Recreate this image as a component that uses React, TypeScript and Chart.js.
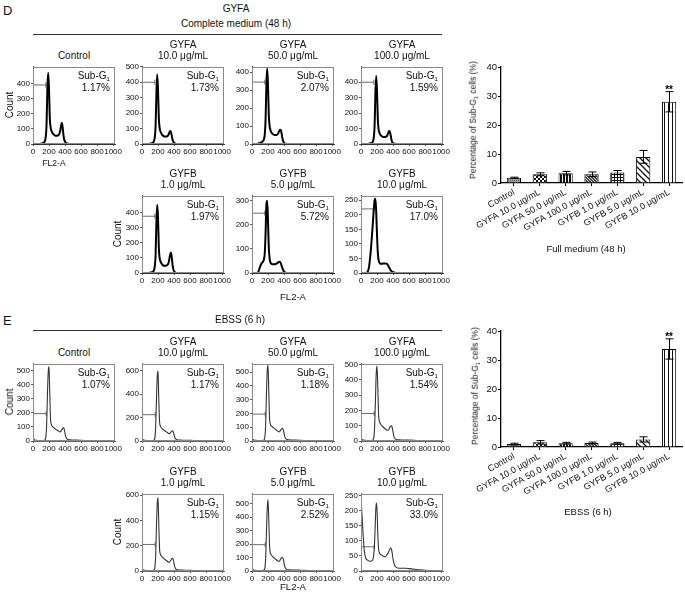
import React, { useEffect, useRef } from "react";
import { Chart, registerables } from "chart.js";
Chart.register(...registerables);

const FONT = '"Liberation Sans", Arial, Helvetica, sans-serif';

// ---------- histogram data (FL2-A channel vs count) ----------
const histX = [0, 20, 40, 60, 80, 100, 120, 140, 150, 160, 170, 180, 190, 200, 210, 220, 230, 240, 260, 280, 300, 320, 330, 340, 350, 360, 370, 380, 390, 400, 410, 420, 440, 460, 500, 550, 600, 700, 800, 900, 1000, 1020];
const histXTicks = [0, 200, 400, 600, 800, 1000];

// Complete medium (48 h)
const dControl = [0, 0, 0, 0, 0, 2, 5, 12, 22, 50, 140, 380, 470, 360, 170, 110, 88, 76, 62, 55, 55, 60, 68, 88, 118, 140, 112, 60, 30, 15, 8, 4, 1, 0, 0, 0, 0, 0, 0, 0, 0, 0];
const dGyfa10 = [0, 0, 0, 0, 0, 2, 5, 10, 20, 45, 120, 330, 450, 350, 170, 105, 82, 70, 55, 48, 48, 52, 60, 72, 85, 80, 58, 32, 15, 8, 4, 2, 0, 0, 0, 0, 0, 0, 0, 0, 0, 0];
const dGyfa50 = [0, 0, 0, 0, 3, 6, 10, 18, 28, 55, 140, 340, 420, 320, 160, 100, 78, 66, 55, 50, 50, 55, 62, 72, 80, 78, 58, 32, 15, 7, 3, 1, 0, 0, 0, 0, 0, 0, 0, 0, 0, 0];
const dGyfa100 = [0, 0, 0, 0, 0, 2, 5, 10, 18, 45, 120, 330, 440, 340, 160, 95, 72, 62, 50, 45, 45, 50, 58, 70, 85, 80, 58, 30, 12, 6, 3, 1, 0, 0, 0, 0, 0, 0, 0, 0, 0, 0];
const dGyfb1 = [0, 0, 0, 0, 0, 2, 5, 10, 20, 45, 120, 340, 450, 370, 170, 100, 78, 66, 52, 48, 48, 55, 65, 88, 118, 135, 112, 60, 28, 12, 5, 2, 0, 0, 0, 0, 0, 0, 0, 0, 0, 0];
const dGyfb5 = [0, 0, 0, 0, 5, 25, 40, 48, 58, 85, 170, 285, 300, 210, 105, 60, 44, 38, 36, 36, 38, 42, 45, 47, 46, 40, 30, 20, 12, 6, 3, 1, 0, 0, 0, 0, 0, 0, 0, 0, 0, 0];
const dGyfb10 = [0, 0, 0, 0, 3, 20, 70, 140, 180, 220, 250, 255, 210, 130, 70, 44, 36, 32, 32, 33, 33, 32, 30, 25, 20, 15, 10, 7, 4, 3, 2, 1, 0, 0, 0, 0, 0, 0, 0, 0, 0, 0];

// EBSS (6 h)
const eControl = [18, 8, 5, 4, 3, 3, 3, 5, 8, 25, 110, 320, 490, 530, 330, 150, 118, 105, 95, 85, 78, 70, 66, 65, 72, 80, 88, 95, 85, 55, 30, 18, 10, 8, 7, 6, 5, 3, 1, 0, 0, 0];
const eGyfa10 = [15, 8, 5, 4, 3, 3, 3, 5, 8, 25, 110, 340, 550, 600, 350, 160, 128, 115, 100, 90, 80, 70, 65, 63, 68, 75, 82, 88, 80, 55, 30, 18, 10, 8, 7, 6, 5, 3, 1, 0, 0, 0];
const eGyfa50 = [15, 8, 5, 4, 3, 3, 3, 5, 8, 25, 110, 330, 510, 550, 350, 160, 122, 110, 100, 90, 82, 72, 68, 66, 72, 80, 88, 92, 82, 55, 30, 18, 10, 8, 7, 6, 5, 3, 1, 0, 0, 0];
const eGyfa100 = [15, 8, 5, 4, 3, 3, 3, 5, 8, 20, 90, 260, 440, 490, 350, 170, 128, 115, 100, 90, 80, 72, 70, 70, 78, 88, 98, 100, 88, 60, 32, 18, 10, 8, 7, 6, 6, 3, 1, 0, 0, 0];
const eGyfb1 = [15, 8, 5, 4, 3, 3, 3, 5, 8, 25, 110, 340, 530, 580, 360, 170, 132, 120, 105, 95, 85, 75, 70, 68, 75, 85, 95, 100, 92, 60, 32, 18, 10, 8, 7, 6, 5, 3, 1, 0, 0, 0];
const eGyfb5 = [15, 8, 5, 4, 3, 3, 3, 5, 8, 20, 90, 280, 460, 530, 370, 180, 132, 120, 105, 95, 85, 75, 72, 72, 80, 90, 98, 100, 90, 60, 32, 18, 10, 8, 7, 7, 6, 3, 1, 0, 0, 0];
const eGyfb10 = [240, 150, 70, 42, 36, 33, 32, 35, 40, 55, 95, 170, 225, 205, 120, 72, 60, 56, 52, 48, 47, 52, 56, 60, 66, 72, 76, 72, 58, 40, 28, 18, 12, 10, 9, 9, 8, 5, 2, 1, 0, 0];

// y tick label sets
const ticks400 = [0, 100, 200, 300, 400];
const ticks500 = [0, 100, 200, 300, 400, 500];
const ticks600 = [0, 200, 400, 600];
const ticks300 = [0, 100, 200, 300];
const ticks250 = [0, 50, 100, 150, 200, 250];

const dSubG1 = ["1.17%", "1.73%", "2.07%", "1.59%", "1.97%", "5.72%", "17.0%"];
const eSubG1 = ["1.07%", "1.17%", "1.18%", "1.54%", "1.15%", "2.52%", "33.0%"];
const histTitles: [string, string][] = [
  ["", "Control"],
  ["GYFA", "10.0 μg/mL"],
  ["GYFA", "50.0 μg/mL"],
  ["GYFA", "100.0 μg/mL"],
  ["GYFB", "1.0 μg/mL"],
  ["GYFB", "5.0 μg/mL"],
  ["GYFB", "10.0 μg/mL"],
];

// ---------- bar chart data ----------
const barLabels = ["Control", "GYFA 10.0 μg/mL", "GYFA 50.0 μg/mL", "GYFA 100.0 μg/mL", "GYFB 1.0 μg/mL", "GYFB 5.0 μg/mL", "GYFB 10.0 μg/mL"];
const dBarMean = [1.8, 3.0, 3.4, 3.0, 3.6, 9.0, 28.0];
const dBarErr = [0.2, 0.5, 0.6, 0.8, 0.7, 2.2, 3.5];
const eBarMean = [1.0, 1.6, 1.3, 1.4, 1.3, 2.6, 33.8];
const eBarErr = [0.3, 0.6, 0.3, 0.3, 0.3, 0.9, 3.5];
const barSig = ["", "", "", "", "", "", "**"];
const barYTicks = [0, 10, 20, 30, 40];

// ---------- helpers ----------
function makePattern(kind: string): CanvasPattern | string {
  const c = document.createElement("canvas");
  const g = c.getContext("2d")!;
  if (kind === "fine") {
    c.width = 2; c.height = 2;
    g.fillStyle = "#a0a0a0"; g.fillRect(0, 0, 2, 2);
    g.fillStyle = "#555"; g.fillRect(0, 0, 1, 1);
  } else if (kind === "dots") {
    c.width = 4; c.height = 4;
    g.fillStyle = "#fff"; g.fillRect(0, 0, 4, 4);
    g.fillStyle = "#111"; g.fillRect(0, 0, 2, 2); g.fillRect(2, 2, 2, 2);
  } else if (kind === "vdense") {
    c.width = 3; c.height = 1;
    g.fillStyle = "#111"; g.fillRect(0, 0, 3, 1);
    g.fillStyle = "#fff"; g.fillRect(2, 0, 1, 1);
  } else if (kind === "cross") {
    c.width = 3; c.height = 3;
    g.fillStyle = "#4a4a4a"; g.fillRect(0, 0, 3, 3);
    g.fillStyle = "#ccc"; g.fillRect(0, 0, 1, 1); g.fillRect(1, 1, 1, 1); g.fillRect(2, 2, 1, 1);
  } else if (kind === "grid") {
    c.width = 3; c.height = 3;
    g.fillStyle = "#fff"; g.fillRect(0, 0, 3, 3);
    g.fillStyle = "#111"; g.fillRect(0, 0, 3, 1); g.fillRect(0, 0, 1, 3);
  } else if (kind === "diag") {
    c.width = 6; c.height = 6;
    g.fillStyle = "#fff"; g.fillRect(0, 0, 6, 6);
    g.strokeStyle = "#111"; g.lineWidth = 1.3;
    g.beginPath();
    g.moveTo(-1, -1); g.lineTo(7, 7);
    g.moveTo(-4, 2); g.lineTo(4, 10);
    g.moveTo(2, -4); g.lineTo(10, 4);
    g.stroke();
  } else if (kind === "vwide") {
    c.width = 4; c.height = 1;
    g.fillStyle = "#fff"; g.fillRect(0, 0, 4, 1);
    g.fillStyle = "#111"; g.fillRect(0, 0, 1, 1);
  }
  return g.createPattern(c, "repeat") || "#999";
}
const barPatterns = ["fine", "dots", "vdense", "cross", "grid", "diag", "vwide"];

const boxPlugin = (color: string) => ({
  id: "box",
  afterDraw(chart: any) {
    const { ctx, chartArea: a } = chart;
    ctx.save();
    ctx.strokeStyle = color;
    ctx.lineWidth = 1;
    ctx.strokeRect(Math.round(a.left) + 0.5, Math.round(a.top) + 0.5, Math.round(a.width) - 1, Math.round(a.height) - 1);
    ctx.restore();
  },
});

const errPlugin = (means: number[], errs: number[], sig: string[]) => ({
  id: "err",
  afterDatasetsDraw(chart: any) {
    const { ctx } = chart;
    const y = chart.scales.y;
    const meta = chart.getDatasetMeta(0);
    ctx.save();
    ctx.strokeStyle = "#000";
    ctx.lineWidth = 1;
    meta.data.forEach((bar: any, i: number) => {
      const x = Math.round(bar.x) + 0.5;
      const yt = y.getPixelForValue(means[i] + errs[i]);
      const yb = y.getPixelForValue(Math.max(means[i] - errs[i], 0));
      ctx.beginPath();
      ctx.moveTo(x, yb); ctx.lineTo(x, yt);
      ctx.moveTo(x - 4, yt); ctx.lineTo(x + 4, yt);
      ctx.moveTo(x - 4, yb); ctx.lineTo(x + 4, yb);
      ctx.stroke();
      if (sig[i]) {
        ctx.fillStyle = "#000";
        ctx.font = `bold 10px ${FONT}`;
        ctx.textAlign = "center";
        ctx.textBaseline = "alphabetic";
        ctx.fillText(sig[i], bar.x, yt + 1);
      }
    });
    ctx.restore();
  },
});

const BOX_W = 82;
const BOX_H = 78;
const Y_W = 24;
const X_H = 14;
const PAD_T = 5;
const PAD_R = 12;

type HistProps = {
  left: number; top: number; ys: number[]; ymax: number; yticks: number[];
  gate: number; gx0: number; gx1: number; ebss: boolean;
};

function Hist({ left, top, ys, ymax, yticks, gate, gx0, gx1, ebss }: HistProps) {
  const ref = useRef<HTMLCanvasElement>(null);
  useEffect(() => {
    const tickFont = { size: 8, family: FONT };
    const chart = new Chart(ref.current!, {
      type: "line",
      data: {
        datasets: [
          {
            data: histX.map((x, i) => ({ x, y: ys[i] })),
            borderColor: ebss ? "#333" : "#000",
            borderWidth: ebss ? 1.1 : 2,
            pointRadius: 0,
            cubicInterpolationMode: "monotone",
            fill: false,
          },
          {
            data: [{ x: gx0, y: gate }, { x: gx1, y: gate }],
            borderColor: "#6a6a6a",
            borderWidth: 1,
            pointStyle: "line",
            rotation: 90,
            pointRadius: 2.5,
            pointBorderColor: "#6a6a6a",
            pointBackgroundColor: "#6a6a6a",
            pointBorderWidth: 1,
          },
        ],
      } as any,
      options: {
        animation: false,
        responsive: false,
        maintainAspectRatio: false,
        layout: { padding: { top: PAD_T, right: PAD_R, left: 0, bottom: 0 } },
        plugins: { legend: { display: false }, tooltip: { enabled: false } },
        scales: {
          x: {
            type: "linear",
            min: 0,
            max: 1024,
            afterBuildTicks: (s: any) => { s.ticks = histXTicks.map((v) => ({ value: v })); },
            afterFit: (s: any) => { s.height = X_H; },
            ticks: { autoSkip: false, maxRotation: 0, minRotation: 0, font: tickFont, color: "#111", padding: 1, callback: (v: any) => String(v) },
            grid: { display: true, drawOnChartArea: false, drawTicks: true, tickLength: 2, color: "#555" },
            border: { display: true, color: ebss ? "#666" : "#333" },
          },
          y: {
            type: "linear",
            min: 0,
            max: ymax,
            afterBuildTicks: (s: any) => { s.ticks = yticks.map((v) => ({ value: v })); },
            afterFit: (s: any) => { s.width = Y_W; },
            ticks: { autoSkip: false, font: tickFont, color: "#111", padding: 1, callback: (v: any) => String(v) },
            grid: { display: true, drawOnChartArea: false, drawTicks: true, tickLength: 2, color: "#555" },
            border: { display: true, color: ebss ? "#666" : "#333" },
          },
        },
      } as any,
      plugins: [boxPlugin("#8a8a8a")],
    });
    return () => chart.destroy();
  }, []);
  const w = Y_W + BOX_W + PAD_R;
  const h = PAD_T + BOX_H + X_H;
  return (
    <canvas ref={ref} width={w} height={h}
      style={{ position: "absolute", left: left - Y_W, top: top - PAD_T, width: w, height: h }} />
  );
}

type BarProps = { top: number; means: number[]; errs: number[] };

function Bars({ top, means, errs }: BarProps) {
  const ref = useRef<HTMLCanvasElement>(null);
  useEffect(() => {
    const chart = new Chart(ref.current!, {
      type: "bar",
      data: {
        labels: barLabels,
        datasets: [
          {
            data: means,
            backgroundColor: barPatterns.map(makePattern),
            borderColor: "#000",
            borderWidth: 1,
            barPercentage: 0.55,
            categoryPercentage: 1,
          },
        ],
      } as any,
      options: {
        animation: false,
        responsive: false,
        maintainAspectRatio: false,
        layout: { padding: { top: 7, right: 3, left: 0, bottom: 0 } },
        plugins: { legend: { display: false }, tooltip: { enabled: false } },
        scales: {
          x: {
            afterFit: (s: any) => { s.height = 62; },
            ticks: { autoSkip: false, minRotation: 29, maxRotation: 29, font: { size: 9, family: FONT }, color: "#111", padding: 1 },
            grid: { display: true, offset: false, drawOnChartArea: false, drawTicks: true, tickLength: 3, color: "#000" },
            border: { display: true, color: "#000", width: 1.3 },
          },
          y: {
            min: 0,
            max: 40,
            afterBuildTicks: (s: any) => { s.ticks = barYTicks.map((v) => ({ value: v })); },
            afterFit: (s: any) => { s.width = 61; },
            ticks: { font: { size: 9.5, family: FONT }, color: "#111", padding: 1 },
            grid: { display: true, drawOnChartArea: false, drawTicks: true, tickLength: 3, color: "#000" },
            border: { display: true, color: "#000", width: 1.3 },
          },
        },
      } as any,
      plugins: [errPlugin(means, errs, barSig)],
    });
    return () => chart.destroy();
  }, []);
  return (
    <canvas ref={ref} width={245} height={185}
      style={{ position: "absolute", left: 440, top, width: 245, height: 185 }} />
  );
}

type TProps = { x: number; y: number; size?: number; align?: "center" | "left" | "right"; rot?: number; children: React.ReactNode };
const T = ({ x, y, size = 10, align = "center", rot = 0, children }: TProps) => {
  const tx = align === "center" ? "-50%" : align === "right" ? "-100%" : "0";
  return (
    <div style={{
      position: "absolute", left: x, top: y, fontSize: size, fontFamily: FONT, lineHeight: 1,
      whiteSpace: "nowrap", color: "#111", transform: `translate(${tx}, -50%) rotate(${rot}deg)`,
    }}>{children}</div>
  );
};

const Sub1 = () => <span style={{ fontSize: "0.62em", position: "relative", top: "0.3em" }}>1</span>;

const COLS = [33, 142, 252, 361];

export default function App() {
  const dHist = [
    { left: COLS[0], top: 66, ys: dControl, ymax: 510, yticks: ticks400, gate: 390 },
    { left: COLS[1], top: 66, ys: dGyfa10, ymax: 500, yticks: ticks500, gate: 400 },
    { left: COLS[2], top: 66, ys: dGyfa50, ymax: 430, yticks: ticks400, gate: 345 },
    { left: COLS[3], top: 66, ys: dGyfa100, ymax: 500, yticks: ticks400, gate: 400 },
    { left: COLS[1], top: 195, ys: dGyfb1, ymax: 510, yticks: ticks400, gate: 375 },
    { left: COLS[2], top: 195, ys: dGyfb5, ymax: 320, yticks: ticks300, gate: 248 },
    { left: COLS[3], top: 195, ys: dGyfb10, ymax: 265, yticks: ticks250, gate: 220 },
  ];
  const eHist = [
    { left: COLS[0], top: 363, ys: eControl, ymax: 550, yticks: ticks500, gate: 195 },
    { left: COLS[1], top: 363, ys: eGyfa10, ymax: 660, yticks: ticks600, gate: 225 },
    { left: COLS[2], top: 363, ys: eGyfa50, ymax: 560, yticks: ticks500, gate: 195 },
    { left: COLS[3], top: 363, ys: eGyfa100, ymax: 505, yticks: ticks500, gate: 180 },
    { left: COLS[1], top: 493, ys: eGyfb1, ymax: 610, yticks: ticks600, gate: 210 },
    { left: COLS[2], top: 493, ys: eGyfb5, ymax: 572, yticks: ticks500, gate: 195 },
    { left: COLS[3], top: 493, ys: eGyfb10, ymax: 255, yticks: ticks250, gate: 80 },
  ];

  const renderGroup = (specs: any[], subs: string[], ebss: boolean) =>
    specs.map((s, i) => (
      <React.Fragment key={(ebss ? "e" : "d") + i}>
        <Hist left={s.left} top={s.top} ys={s.ys} ymax={s.ymax} yticks={s.yticks} gate={s.gate}
          gx0={ebss ? 5 : 3} gx1={ebss ? 165 : 160} ebss={ebss} />
        {histTitles[i][0] && <T x={s.left + BOX_W / 2} y={s.top - 21}>{histTitles[i][0]}</T>}
        <T x={s.left + BOX_W / 2} y={s.top - 10}>{histTitles[i][1]}</T>
        <T x={s.left + BOX_W - 5} y={s.top + 10} align="right">Sub-G<Sub1 /></T>
        <T x={s.left + BOX_W - 5} y={s.top + 22} align="right">{subs[i]}</T>
      </React.Fragment>
    ));

  return (
    <div style={{ position: "absolute", left: 0, top: 0, width: 685, height: 595, background: "#fff", overflow: "hidden", fontFamily: FONT }}>
      {/* Panel D */}
      <T x={3} y={10} size={13} align="left">D</T>
      <T x={236} y={9}>GYFA</T>
      <T x={236} y={24}>Complete medium (48 h)</T>
      <div style={{ position: "absolute", left: 33, top: 34, width: 409, height: 1, background: "#333" }} />
      {renderGroup(dHist, dSubG1, false)}
      <T x={10} y={105} rot={-90}>Count</T>
      <T x={118} y={234} rot={-90}>Count</T>
      <T x={54} y={163} size={8.5}>FL2-A</T>
      <T x={293} y={297} size={9.5}>FL2-A</T>

      <Bars top={60} means={dBarMean} errs={dBarErr} />
      <T x={473} y={120} size={8.5} rot={-90}>Percentage of Sub-G<Sub1 /> cells (%)</T>
      <T x={586} y={249} size={9.5}>Full medium (48 h)</T>

      {/* Panel E */}
      <T x={3} y={320} size={13} align="left">E</T>
      <T x={240} y={320}>EBSS (6 h)</T>
      <div style={{ position: "absolute", left: 33, top: 330, width: 409, height: 1, background: "#333" }} />
      {renderGroup(eHist, eSubG1, true)}
      <T x={10} y={402} rot={-90}>Count</T>
      <T x={118} y={532} rot={-90}>Count</T>
      <T x={293} y={587} size={9.5}>FL2-A</T>

      <Bars top={324} means={eBarMean} errs={eBarErr} />
      <T x={475} y={386} size={8.5} rot={-90}>Percentage of Sub-G<Sub1 /> cells (%)</T>
      <T x={588} y={512} size={9.5}>EBSS (6 h)</T>
    </div>
  );
}
